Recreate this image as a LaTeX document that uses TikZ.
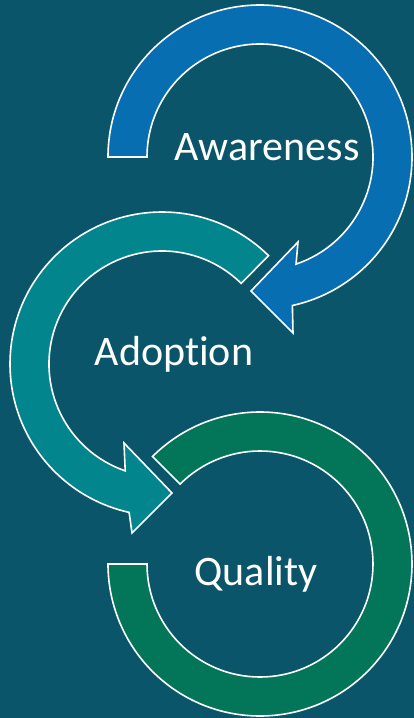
\documentclass[tikz,border=0pt]{standalone}
\usepackage{fontspec}
\setmainfont[Ligatures={NoCommon}]{Carlito}
\usetikzlibrary{calc}
\definecolor{bgc}{RGB}{10,85,105}
\definecolor{bluec}{RGB}{8,110,178}
\definecolor{tealc}{RGB}{3,133,142}
\definecolor{greenc}{RGB}{3,118,90}
\tikzset{
  band/.style={draw=white, line width=1.6pt, line join=miter},
  lbl/.style={text=white, anchor=base, inner sep=0pt, font=\fontsize{42}{50}\selectfont}
}
\begin{document}
\begin{tikzpicture}[x=1pt,y=1pt]
\fill[bgc] (0,0) rectangle (414,-718);
\useasboundingbox (0,0) rectangle (414,-718);
\coordinate (C1) at (260,-157);
\coordinate (C2) at (162,-364);
\coordinate (C3) at (260,-564);
% green (Quality)
\path[band, fill=greenc] (C3) ++(135:152) arc[start angle=135, end angle=-180, radius=152]
  -- ($(C3)+(180:113)$) arc[start angle=-180, end angle=135, radius=113] -- cycle;
% teal (Adoption)
\path[band, fill=tealc] (C2) ++(45.5:152) arc[start angle=45.5, end angle=257.5, radius=152]
  -- (132,-533) -- (172,-493) -- (124,-443)
  -- ($(C2)+(251:113)$) arc[start angle=251, end angle=45.5, radius=113] -- cycle;
% blue (Awareness)
\path[band, fill=bluec] (C1) ++(180:152) arc[start angle=180, end angle=-77.7, radius=152]
  -- (293,-333) -- (251,-291) -- (298,-242)
  -- ($(C1)+(-71.4:113)$) arc[start angle=-71.4, end angle=180, radius=113] -- cycle;
\node[lbl] (aw) at (267,-160) {Awareness};
\node[lbl] (ad) at (174,-365) {Adoption};
\node[lbl] (qu) at (256,-585) {Quality};
\end{tikzpicture}
\end{document}
